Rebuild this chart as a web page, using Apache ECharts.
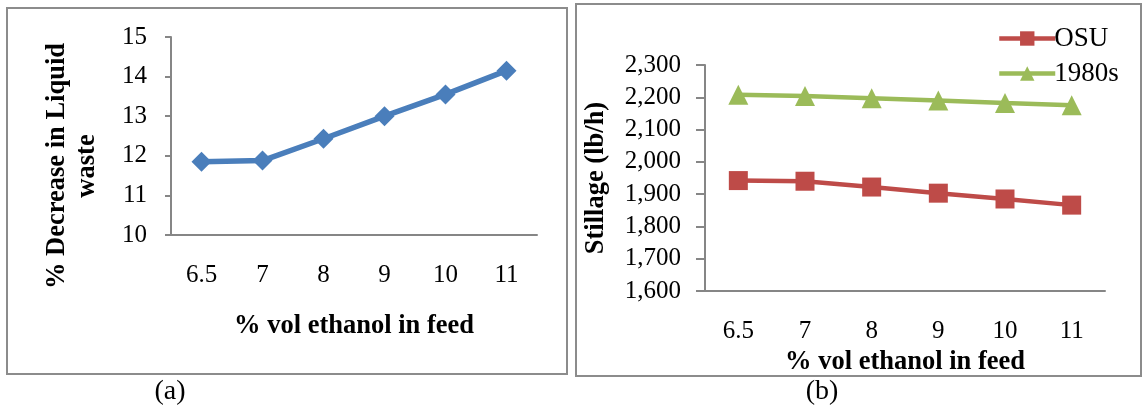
<!DOCTYPE html>
<html>
<head>
<meta charset="utf-8">
<script src="https://cdn.jsdelivr.net/npm/echarts@6/dist/echarts.min.js"></script>
<style>
  html, body { margin: 0; padding: 0; background: #fff; }
  #main { width: 1144px; height: 410px; }
</style>
</head>
<body>
<div id="main"></div>
<script>
// data
const ethanolLevels = ['6.5', '7', '8', '9', '10', '11'];
const wasteDecrease = [11.85, 11.88, 12.43, 13.0, 13.55, 14.15];
const stillageOSU = [1942, 1940, 1922, 1903, 1885, 1866];
const stillage1980s = [2208, 2204, 2197, 2190, 2182, 2175];
const seriesNames = ['OSU', '1980s'];
const wasteRange = [10, 15, 1];
const stillageRange = [1600, 2300, 100];

const FONT = '"Liberation Serif", "Times New Roman", serif';
const AXIS_GREY = '#868686';
const TITLE_SIZE = 26.5;

const chart = echarts.init(document.getElementById('main'));

const xAxisBase = (gridIndex, gap) => ({
  gridIndex,
  type: 'category',
  data: ethanolLevels,
  boundaryGap: true,
  axisLine: { lineStyle: { color: AXIS_GREY, width: 2 } },
  axisTick: { show: false },
  axisLabel: { color: '#000', fontFamily: FONT, fontSize: 25, margin: 28 },
  name: '% vol ethanol in feed',
  nameLocation: 'middle',
  nameGap: gap,
  nameTextStyle: { color: '#000', fontFamily: FONT, fontSize: TITLE_SIZE, fontWeight: 'bold' }
});

const yAxisBase = (gridIndex, range, tickLen, fmt) => ({
  gridIndex,
  type: 'value',
  min: range[0],
  max: range[1],
  interval: range[2],
  splitLine: { show: false },
  axisLine: { show: true, lineStyle: { color: AXIS_GREY, width: 2 } },
  axisTick: { show: true, length: tickLen, lineStyle: { color: AXIS_GREY, width: 2 } },
  axisLabel: { color: '#000', fontFamily: FONT, fontSize: 25, margin: 24, formatter: fmt }
});

const option = {
  animation: false,
  backgroundColor: '#fff',
  grid: [
    { left: 171, right: 607, top: 37, bottom: 175 },
    { left: 705, right: 39, top: 65, bottom: 119 }
  ],
  xAxis: [ xAxisBase(0, 78), xAxisBase(1, 52) ],
  yAxis: [
    yAxisBase(0, wasteRange, 6),
    yAxisBase(1, stillageRange, 9, v => v.toLocaleString('en-US'))
  ],
  legend: {
    data: seriesNames,
    orient: 'vertical',
    left: 992,
    top: 20,
    itemWidth: 56,
    itemHeight: 18,
    itemGap: 8,
    lineStyle: { width: 4.5 },
    textStyle: { color: '#000', fontFamily: FONT, fontSize: 27, padding: [0, 0, 0, -6] }
  },
  series: [
    {
      type: 'line',
      xAxisIndex: 0, yAxisIndex: 0,
      data: wasteDecrease,
      color: '#4a7ebb',
      symbol: 'diamond',
      symbolSize: 20,
      lineStyle: { width: 5.5 }
    },
    {
      name: seriesNames[0],
      type: 'line',
      xAxisIndex: 1, yAxisIndex: 1,
      data: stillageOSU,
      color: '#be4b48',
      symbol: 'rect',
      symbolSize: 19,
      lineStyle: { width: 4.5 }
    },
    {
      name: seriesNames[1],
      type: 'line',
      xAxisIndex: 1, yAxisIndex: 1,
      data: stillage1980s,
      color: '#9bbb59',
      symbol: 'triangle',
      symbolSize: 20,
      lineStyle: { width: 4.5 }
    }
  ],
  graphic: [
    { type: 'rect', shape: { x: 7, y: 8, width: 560, height: 366 },
      style: { fill: null, stroke: '#8c8c8c', lineWidth: 2 } },
    { type: 'rect', shape: { x: 576, y: 4, width: 565, height: 372 },
      style: { fill: null, stroke: '#8c8c8c', lineWidth: 2 } },
    { type: 'text', x: 72, y: 166, rotation: Math.PI / 2,
      style: { text: '% Decrease in Liquid\nwaste', fill: '#000', font: 'bold ' + TITLE_SIZE + 'px ' + FONT,
               align: 'center', verticalAlign: 'middle', lineHeight: 30 } },
    { type: 'text', x: 596, y: 178, rotation: Math.PI / 2,
      style: { text: 'Stillage (lb/h)', fill: '#000', font: 'bold ' + TITLE_SIZE + 'px ' + FONT,
               align: 'center', verticalAlign: 'middle' } },
    { type: 'text', x: 170, y: 392,
      style: { text: '(a)', fill: '#000', font: '28px ' + FONT, align: 'center', verticalAlign: 'middle' } },
    { type: 'text', x: 822, y: 392,
      style: { text: '(b)', fill: '#000', font: '28px ' + FONT, align: 'center', verticalAlign: 'middle' } }
  ]
};

chart.setOption(option);
</script>
</body>
</html>
